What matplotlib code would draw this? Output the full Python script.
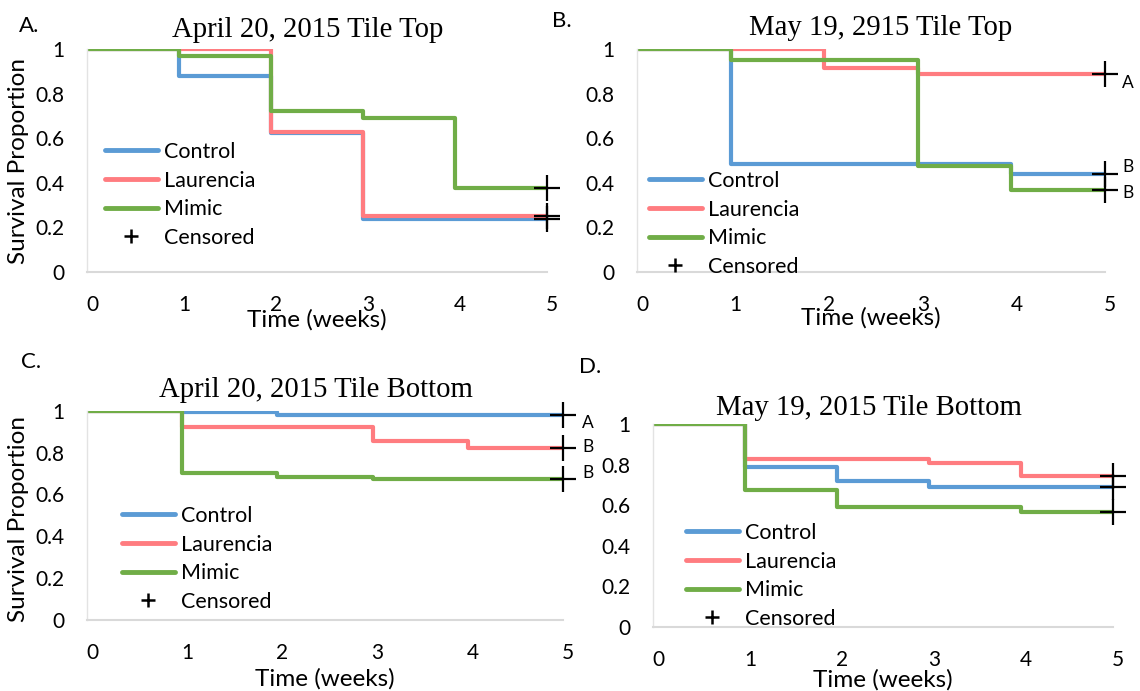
import matplotlib
matplotlib.use('Agg')
import matplotlib.pyplot as plt
from matplotlib.lines import Line2D
from matplotlib.transforms import ScaledTranslation

plt.rcParams['font.family'] = ['Lato', 'DejaVu Sans']

# ---------------- data ----------------
weeks = [0, 1, 2, 3, 4, 5]
series_names = ['Control', 'Laurencia', 'Mimic']
censor_label = 'Censored'

a_control = [1.0, 0.88, 0.625, 0.237, 0.237, 0.237]
a_laurencia = [1.0, 1.0, 0.628, 0.25, 0.25, 0.25]
a_mimic = [1.0, 0.971, 0.723, 0.691, 0.375, 0.375]

b_control = [1.0, 0.483, 0.483, 0.483, 0.44, 0.44]
b_laurencia = [1.0, 1.0, 0.917, 0.888, 0.888, 0.888]
b_mimic = [1.0, 0.952, 0.952, 0.477, 0.368, 0.368]

c_control = [1.0, 0.992, 0.98, 0.98, 0.98, 0.98]
c_laurencia = [1.0, 0.924, 0.924, 0.855, 0.82, 0.82]
c_mimic = [1.0, 0.70, 0.685, 0.672, 0.672, 0.672]

d_control = [1.0, 0.786, 0.717, 0.69, 0.69, 0.69]
d_laurencia = [1.0, 0.826, 0.826, 0.806, 0.743, 0.743]
d_mimic = [1.0, 0.676, 0.589, 0.589, 0.566, 0.566]

titles = ['April 20, 2015 Tile Top', 'May 19, 2915 Tile Top',
          'April 20, 2015 Tile Bottom', 'May 19, 2015 Tile Bottom']
panel_letters = ['A.', 'B.', 'C.', 'D.']
b_groups = ['B', 'A', 'B']   # Control, Laurencia, Mimic
c_groups = ['A', 'B', 'B']
y_ticks = [0, 0.2, 0.4, 0.6, 0.8, 1]
y_ticklabels = ['0', '0.2', '0.4', '0.6', '0.8', '1']
x_label = 'Time (weeks)'
y_label = 'Survival Proportion'

colors = ['#5B9BD5', '#FF7C80', '#70AD47']

# ---------------- layout (pixels) ----------------
W, H = 1140, 691
fig = plt.figure(figsize=(W / 100, H / 100), dpi=100)


def px_axes(l, r, t, b):
    return fig.add_axes([l / W, (H - b) / H, (r - l) / W, (b - t) / H])


panels = [
    dict(box=(87, 547, 49.3, 271.7), data=(a_control, a_laurencia, a_mimic), groups=None,
         title_xy=(308, 30), letter_xy=(29, 26), legend_xy=(105, 149), xlabel_off=48, ylabel=True,
         ylabel_y=161),
    dict(box=(637, 1105, 49.3, 272), data=(b_control, b_laurencia, b_mimic), groups=b_groups,
         title_xy=(881, 28), letter_xy=(562, 21), legend_xy=(649, 178), xlabel_off=46, ylabel=False,
         group_off=[(23, 7), (23, -9), (23, -3)]),
    dict(box=(87, 563, 410.7, 620), data=(c_control, c_laurencia, c_mimic), groups=c_groups,
         title_xy=(316, 390), letter_xy=(31, 362), legend_xy=(122, 513), xlabel_off=59, ylabel=True,
         ylabel_y=519, group_off=[(25, -8), (25, 1), (25, 6)]),
    dict(box=(653, 1113, 424, 626.7), data=(d_control, d_laurencia, d_mimic), groups=None,
         title_xy=(869, 408), letter_xy=(590, 367), legend_xy=(686, 530), xlabel_off=53, ylabel=False),
]

PT = 72 / 100  # points per pixel

for i, p in enumerate(panels):
    l, r, t, b = p['box']
    ax = px_axes(l, r, t, b)
    for vals, col in zip(p['data'], colors):
        ax.step(weeks, vals, where='post', color=col, lw=3, solid_joinstyle='round',
                solid_capstyle='butt')
    for vals in p['data']:
        ax.plot(weeks[-1], vals[-1], ls='none', marker='+', color='black', ms=26 * PT,
                mew=1.6, clip_on=False, zorder=5)
    if p['groups']:
        for vals, g, off in zip(p['data'], p['groups'], p['group_off']):
            ax.annotate(g, xy=(weeks[-1], vals[-1]), xytext=(off[0] * PT, off[1] * PT),
                        textcoords='offset points', ha='center', va='center', fontsize=12.5)

    ax.set_xlim(0, 5)
    ax.set_ylim(0, 1)
    ax.set_xticks(weeks)
    ax.set_xticklabels([str(w) for w in weeks])
    ax.set_yticks(y_ticks)
    ax.set_yticklabels(y_ticklabels)
    ax.tick_params(axis='both', length=0, labelsize=15, colors='black')
    ax.tick_params(axis='x', pad=16.5)
    ax.tick_params(axis='y', pad=16)
    for lab in ax.get_xticklabels():
        lab.set_transform(lab.get_transform() + ScaledTranslation(5 / 100, 0, fig.dpi_scale_trans))
    for s in ['top', 'right']:
        ax.spines[s].set_visible(False)
    ax.spines['bottom'].set_color('#D9D9D9')
    ax.spines['bottom'].set_linewidth(1.5)
    ax.spines['left'].set_color('#E3E3E3')
    ax.spines['left'].set_linewidth(1.0)
    ax.patch.set_alpha(0)

    ax.annotate(x_label, xy=(0.5, 0), xycoords='axes fraction',
                xytext=(0, -p['xlabel_off'] * PT), textcoords='offset points',
                ha='center', va='center', fontsize=17.5)
    if p['ylabel']:
        fig.text(19 / W, 1 - p['ylabel_y'] / H, y_label, ha='center', va='center',
                 rotation=90, fontsize=17.5)

    tx, ty = p['title_xy']
    fig.text(tx / W, 1 - ty / H, titles[i], ha='center', va='center', fontsize=20.7,
             family='Liberation Serif')
    lx, ly = p['letter_xy']
    fig.text(lx / W, 1 - ly / H, panel_letters[i], ha='center', va='center', fontsize=16)

    handles = [Line2D([], [], color=c, lw=3.5, solid_capstyle='round') for c in colors]
    handles.append(Line2D([], [], color='black', ls='none', marker='+', ms=9.5, mew=1.8))
    gx, gy = p['legend_xy']
    ax.legend(handles, series_names + [censor_label], loc='upper left',
              bbox_to_anchor=(gx / W, 1 - (gy - 7) / H), bbox_transform=fig.transFigure,
              frameon=False, fontsize=15.5, handlelength=2.46, handletextpad=0.28,
              labelspacing=0.4, borderpad=0, borderaxespad=0)

fig.savefig('out.png', dpi=100)
